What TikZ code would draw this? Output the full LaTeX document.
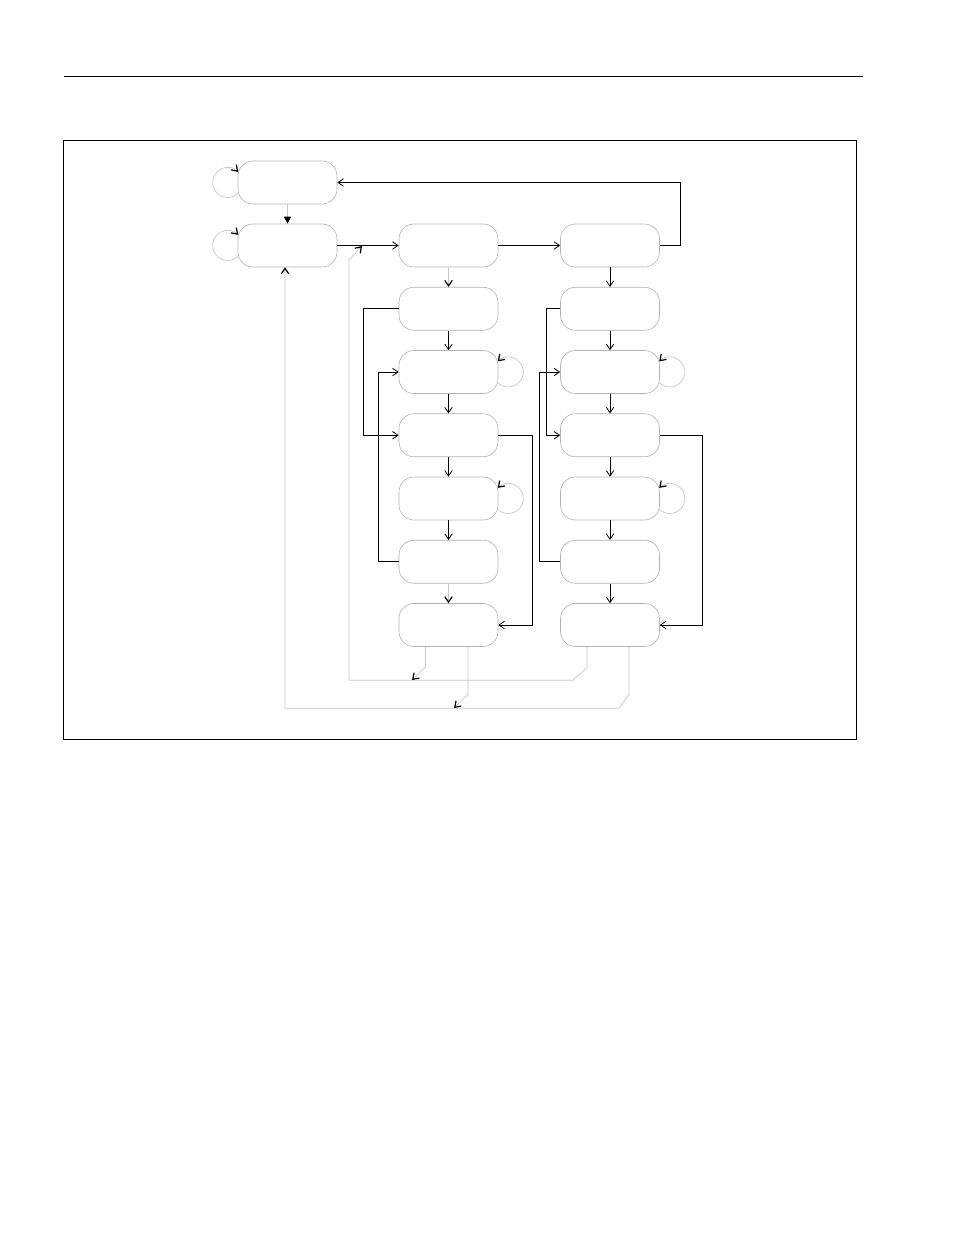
\documentclass[tikz,border=0pt]{standalone}
\usetikzlibrary{arrows.meta}
\begin{document}
\begin{tikzpicture}[x=1pt,y=-1pt,>={Straight Barb[length=5.5pt,width=7.5pt]},
  stbox/.style={draw=black!30, line width=0.6pt, rounded corners=15pt, minimum width=99pt, minimum height=43pt, inner sep=0pt},
  solidarrow/.style={->, line width=0.8pt},
  greyarrow/.style={-{Straight Barb[length=5.5pt,width=7.5pt,color=black,line width=1.2pt]}, draw=black!22, line width=0.7pt}]
  \useasboundingbox (0,0) rectangle (954,1235);
  \draw[line width=1pt] (64,76) -- (863,76);          % page rule
  \draw[line width=1pt] (63,140.5) rectangle (856.5,739); % figure frame

  \node[stbox] (A) at (287.5,182.5) {};
  \node[stbox] (B) at (287.5,245.5) {};
  \foreach \i in {1,...,7} {
    \node[stbox] (C\i) at (448.5,182.25+63.25*\i) {};
    \node[stbox] (D\i) at (610,182.25+63.25*\i) {};
  }
  \coordinate (j1) at (362,246);  % merge on B -> C1
  \coordinate (j2) at (412,680);
  \coordinate (j3) at (454,708);

  \draw[greyarrow, -{Triangle[length=7pt,width=7pt,color=black]}] (A) -- (B);
  \draw[solidarrow] (B) -- (C1);
  \draw[solidarrow] (C1) -- (D1);
  \draw[solidarrow] (D1.east) -- ++(21,0) |- (A.east);

  \draw[greyarrow] (C1) -- (C2);
  \foreach \i/\j in {2/3,3/4,4/5,5/6} \draw[solidarrow] (C\i) -- (C\j);
  \draw[greyarrow] (C6) -- (C7);
  \foreach \i/\j in {1/2,2/3,3/4,4/5,5/6,6/7} \draw[solidarrow] (D\i) -- (D\j);

  \draw[solidarrow] (C2.west) -- ++(-35,0) |- (C4.west);
  \draw[solidarrow] (C6.west) -- ++(-20,0) |- (C3.west);
  \draw[solidarrow] (C4.east) -- ++(34,0) |- (C7.east);
  \draw[solidarrow] (D2.west) -- ++(-13.5,0) |- (D4.west);
  \draw[solidarrow] (D6.west) -- ++(-21,0) |- (D3.west);
  \draw[solidarrow] (D4.east) -- ++(42.5,0) |- (D7.east);

  % self loops
  \foreach \n in {A,B}
    \draw[greyarrow] ([xshift=0.6pt,yshift=-10.6pt]\n.west) arc[start angle=-45,end angle=-315,radius=15pt];
  \foreach \n in {C3,C5,D3,D5}
    \draw[greyarrow] ([xshift=-0.6pt,yshift=-10.6pt]\n.east) arc[start angle=-135,end angle=135,radius=15pt];

  % return paths
  \draw[greyarrow] ([xshift=-23pt]D7.south) -- ++(0,20.5) -- ++(-14,13) -| (349,260) -- (j1);
  \draw[greyarrow] ([xshift=-23pt]C7.south) -- ++(0,20) -- (j2);
  \draw[greyarrow] ([xshift=19pt]D7.south) -- ++(0,47.5) -- ++(-10,14) -| ([xshift=-2.5pt]B.south);
  \draw[greyarrow] ([xshift=19.5pt]C7.south) -- ++(0,47.5) -- (j3);
\end{tikzpicture}
\end{document}
